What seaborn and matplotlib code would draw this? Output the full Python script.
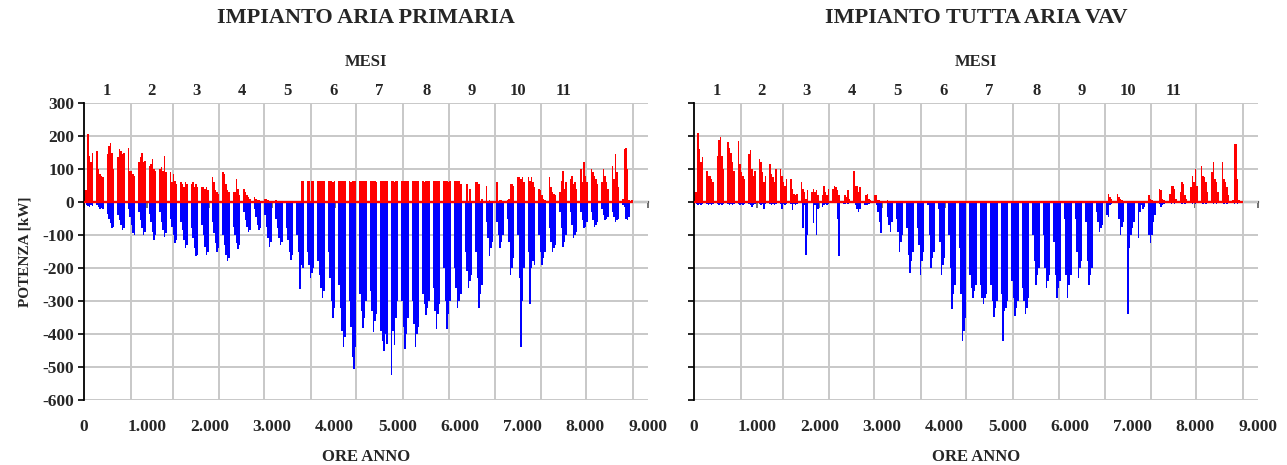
import numpy as np
import pandas as pd
import matplotlib
matplotlib.use("Agg")
import matplotlib.pyplot as plt
import seaborn as sns
from matplotlib.ticker import FuncFormatter

sns.set_theme(style="white")
plt.rcParams['font.family'] = ['Liberation Serif', 'DejaVu Serif']
plt.rcParams['font.weight'] = 'bold'
plt.rcParams['axes.unicode_minus'] = False

# ---------------- text / axes data ----------------
titoli = ["IMPIANTO ARIA PRIMARIA", "IMPIANTO TUTTA ARIA VAV"]
etichetta_y = "POTENZA [kW]"
etichetta_x = "ORE ANNO"
etichetta_mesi = "MESI"
mesi_etichette = ["1", "2", "3", "4", "5", "6", "7", "8", "9", "10", "11"]
giorni_mese = [31, 28, 31, 30, 31, 30, 31, 31, 30, 31, 30, 31]
ore_ticks = [0, 1000, 2000, 3000, 4000, 5000, 6000, 7000, 8000, 9000]
potenza_ticks = [-600, -500, -400, -300, -200, -100, 0, 100, 200, 300]

# ---------------- daily peak values [kW], one row per week (Sun..Sat) ----------------
primaria_riscaldamento = [
    35, 35, 205, 140, 120, 150, 0,
    0, 155, 100, 85, 80, 75, 0,
    0, 145, 170, 180, 150, 100, 0,
    0, 135, 160, 155, 145, 150, 0,
    0, 165, 95, 95, 85, 80, 0,
    0, 120, 135, 150, 120, 125, 0,
    0, 110, 115, 130, 100, 95, 0,
    0, 100, 105, 95, 140, 90, 0,
    0, 90, 60, 85, 65, 55, 0,
    0, 60, 55, 45, 60, 55, 0,
    0, 55, 60, 45, 55, 45, 0,
    0, 45, 45, 40, 45, 35, 0,
    0, 75, 60, 35, 30, 25, 0,
    0, 90, 85, 55, 35, 30, 0,
    0, 30, 30, 70, 40, 20, 0,
    0, 40, 30, 20, 15, 10, 0,
    0, 15, 10, 5, 5, 3, 0,
    0, 10, 8, 5, 3, 2, 0,
    0, 5, 3, 2, 2, 2, 0,
    0, 3, 2, 2, 2, 2, 0,
    0, 3, 2, 2, 65, 65, 0,
    0, 65, 65, 3, 65, 65, 0,
    0, 65, 65, 65, 65, 65, 0,
    0, 65, 65, 65, 60, 65, 0,
    0, 65, 65, 65, 65, 65, 0,
    0, 65, 60, 65, 65, 65, 0,
    0, 65, 65, 65, 65, 65, 0,
    0, 65, 65, 65, 65, 60, 0,
    0, 65, 65, 65, 65, 65, 0,
    0, 65, 65, 60, 65, 65, 0,
    0, 65, 65, 65, 65, 65, 0,
    0, 65, 65, 65, 65, 65, 0,
    0, 65, 60, 65, 65, 65, 0,
    0, 65, 65, 65, 65, 65, 0,
    0, 65, 65, 65, 60, 65, 0,
    0, 65, 65, 65, 65, 55, 0,
    0, 0, 55, 0, 40, 0, 0,
    0, 60, 60, 55, 0, 10, 0,
    0, 50, 0, 5, 0, 0, 0,
    0, 60, 0, 5, 5, 0, 0,
    0, 5, 10, 55, 55, 50, 0,
    0, 75, 75, 70, 75, 60, 0,
    0, 75, 65, 75, 60, 45, 0,
    0, 40, 35, 20, 10, 5, 0,
    0, 75, 45, 30, 25, 20, 0,
    0, 30, 65, 95, 40, 60, 0,
    0, 70, 80, 55, 60, 40, 0,
    0, 100, 60, 120, 80, 60, 0,
    0, 100, 90, 80, 70, 55, 0,
    0, 60, 100, 80, 60, 40, 0,
    0, 110, 70, 145, 90, 45, 0,
    0, 10, 160, 165, 100, 5, 0,
    5,
]

primaria_raffrescamento = [
    0, -10, -12, -15, -10, -12, 0,
    0, -10, -15, -20, -18, -20, 0,
    0, -35, -50, -65, -80, -75, 0,
    0, -40, -55, -70, -85, -80, 0,
    0, -20, -45, -70, -95, -100, 0,
    0, -30, -55, -80, -100, -90, 0,
    0, -35, -60, -90, -115, -100, 0,
    0, -30, -60, -85, -105, -95, 0,
    0, -50, -75, -100, -125, -115, 0,
    0, -60, -85, -115, -140, -130, 0,
    0, -80, -110, -140, -165, -160, 0,
    0, -70, -100, -135, -160, -150, 0,
    0, -60, -95, -125, -150, -140, 0,
    0, -100, -130, -160, -178, -170, 0,
    0, -75, -100, -125, -143, -130, 0,
    0, -30, -55, -75, -90, -85, 0,
    0, -20, -45, -70, -85, -80, 0,
    0, -40, -75, -110, -135, -120, 0,
    0, -50, -80, -110, -130, -120, 0,
    0, -80, -115, -150, -175, -160, 0,
    0, -100, -150, -265, -190, -200, 0,
    0, -150, -190, -230, -215, -200, 0,
    0, -180, -220, -260, -290, -270, 0,
    0, -150, -230, -300, -350, -320, 0,
    0, -250, -320, -390, -440, -410, 0,
    0, -300, -380, -470, -505, -440, 0,
    0, -280, -330, -383, -350, -300, 0,
    0, -270, -330, -393, -360, -340, 0,
    0, -390, -420, -450, -400, -430, 0,
    0, -525, -390, -434, -350, -300, 0,
    0, -300, -380, -444, -400, -350, 0,
    0, -300, -370, -440, -400, -380, 0,
    0, -280, -310, -342, -320, -300, 0,
    0, -260, -330, -385, -340, -310, 0,
    0, -200, -300, -385, -340, -300, 0,
    0, -200, -260, -320, -300, -280, 0,
    0, -150, -210, -260, -240, -220, 0,
    0, -150, -230, -320, -280, -250, 0,
    0, -60, -110, -165, -140, -120, 0,
    0, -60, -100, -140, -120, -100, 0,
    0, -50, -120, -220, -200, -170, 0,
    0, -100, -230, -440, -300, -200, 0,
    0, -150, -310, -200, -180, -190, 0,
    0, -100, -150, -190, -170, -150, 0,
    0, -80, -120, -150, -140, -130, 0,
    0, -30, -80, -135, -120, -100, 0,
    0, -30, -70, -110, -100, -90, 0,
    0, -30, -55, -80, -75, -60, 0,
    0, -30, -55, -75, -70, -60, 0,
    0, -20, -40, -55, -50, -45, 0,
    0, -30, -45, -60, -55, -50, 0,
    0, -10, -15, -50, -55, -45, 0,
    0,
]

vav_riscaldamento = [
    30, 30, 210, 160, 120, 136, 0,
    0, 95, 80, 80, 70, 60, 0,
    0, 140, 188, 198, 140, 100, 0,
    0, 182, 165, 150, 120, 95, 0,
    0, 185, 115, 90, 80, 70, 0,
    0, 146, 157, 100, 80, 95, 0,
    0, 130, 120, 90, 60, 80, 0,
    0, 115, 85, 75, 60, 100, 0,
    0, 100, 80, 60, 50, 70, 0,
    0, 70, 40, 25, 20, 25, 0,
    0, 60, 40, 30, 10, 35, 0,
    0, 30, 40, 30, 35, 20, 0,
    0, 20, 50, 30, 20, 40, 0,
    0, 40, 50, 45, 35, 20, 0,
    0, 0, 20, 15, 35, 10, 0,
    0, 95, 50, 50, 30, 45, 0,
    0, 0, 20, 25, 10, 5, 0,
    0, 20, 20, 5, 5, 3, 0,
    0, 0, 5, 3, 2, 0, 0,
    0, 0, 0, 0, 0, 0, 0,
    0, 0, 0, 0, 0, 0, 0,
    0, 0, 0, 0, 0, 0, 0,
    0, 0, 0, 0, 0, 0, 0,
    0, 0, 0, 0, 0, 0, 0,
    0, 0, 0, 0, 0, 0, 0,
    0, 0, 0, 0, 0, 0, 0,
    0, 0, 0, 0, 0, 0, 0,
    0, 0, 0, 0, 0, 0, 0,
    0, 0, 0, 0, 0, 0, 0,
    0, 0, 0, 0, 0, 0, 0,
    0, 0, 0, 0, 0, 0, 0,
    0, 0, 0, 0, 0, 0, 0,
    0, 0, 0, 0, 0, 0, 0,
    0, 0, 0, 0, 0, 0, 0,
    0, 0, 0, 0, 0, 0, 0,
    0, 0, 0, 0, 0, 0, 0,
    0, 0, 0, 0, 0, 0, 0,
    0, 0, 0, 0, 0, 0, 0,
    0, 0, 0, 0, 0, 0, 0,
    0, 0, 25, 15, 10, 0, 0,
    0, 25, 15, 10, 5, 0, 0,
    0, 0, 0, 0, 0, 0, 0,
    0, 0, 0, 0, 0, 0, 0,
    0, 20, 10, 5, 0, 0, 0,
    0, 40, 35, 10, 5, 0, 0,
    0, 25, 50, 50, 40, 10, 0,
    0, 30, 60, 55, 20, 10, 0,
    0, 45, 80, 60, 100, 50, 0,
    0, 110, 80, 75, 60, 30, 0,
    0, 90, 120, 70, 60, 30, 0,
    0, 120, 70, 60, 45, 20, 0,
    0, 5, 175, 175, 70, 5, 0,
    0,
]

vav_raffrescamento = [
    0, -5, -8, -5, -10, -5, 0,
    0, -5, -8, -5, -10, -5, 0,
    0, -5, -8, -5, -10, -5, 0,
    0, -5, -8, -5, -10, -5, 0,
    0, -5, -8, -5, -10, -5, 0,
    0, -5, -8, -15, -10, -5, 0,
    0, -5, -8, -5, -20, -5, 0,
    0, -5, -8, -5, -10, -5, 0,
    0, -5, -20, -5, -10, -5, 0,
    0, -5, -25, -5, -10, -5, 0,
    0, 0, -80, -10, -160, -100, 0,
    0, 0, -65, -10, -100, -20, 0,
    0, -15, -10, -5, -10, -5, 0,
    0, 0, 0, 0, -50, -165, 0,
    0, -5, -5, -3, -5, -3, 0,
    0, 0, -10, -20, -30, -20, 0,
    0, -10, -10, -10, -5, 0, 0,
    0, 0, -10, -30, -60, -95, 0,
    0, 0, -45, -70, -90, -60, 0,
    0, -50, -90, -150, -120, -100, 0,
    0, -80, -160, -215, -180, -150, 0,
    0, -80, -130, -220, -180, -150, 0,
    0, -10, -100, -200, -170, -150, 0,
    0, -20, -120, -220, -190, -170, 0,
    0, -100, -200, -325, -280, -250, 0,
    0, -140, -280, -420, -390, -350, 0,
    0, -220, -260, -290, -270, -250, 0,
    0, -250, -290, -308, -290, -280, 0,
    0, -250, -300, -348, -320, -300, 0,
    0, -280, -420, -330, -320, -300, 0,
    0, -240, -290, -345, -320, -300, 0,
    0, -260, -300, -340, -320, -290, 0,
    0, -100, -180, -250, -220, -200, 0,
    0, -100, -200, -260, -240, -220, 0,
    0, -120, -220, -290, -260, -240, 0,
    0, -50, -220, -290, -250, -220, 0,
    0, -50, -150, -230, -200, -180, 0,
    0, -60, -180, -250, -220, -200, 0,
    0, -30, -60, -90, -80, -70, 0,
    0, -40, -45, -10, -5, 0, 0,
    0, 0, -50, -100, -75, -60, 0,
    0, -340, -140, -100, -80, -60, 0,
    0, -110, -30, -10, -20, -15, 0,
    0, -100, -125, -100, -60, -40, 0,
    0, -5, -15, -10, -5, 0, 0,
    0, -3, -5, -3, -5, -3, 0,
    0, -3, -5, -3, -5, -3, 0,
    0, -3, -5, -3, -5, -3, 0,
    0, -3, -5, -3, -5, -3, 0,
    0, -3, -5, -3, -5, -3, 0,
    0, -3, -5, -3, -5, -3, 0,
    0, -3, -5, -3, -5, -3, 0,
    0,
]

ROSSO = "#FF0000"
BLU = "#0000FF"
GRIGLIA = "#c8c8c8"

W, H = 1287, 465
fig = plt.figure(figsize=(W / 100, H / 100), dpi=100)
pos_x = [84, 694]
ax_w = 564
ax_top, ax_bot = 103, 400

confini_mesi = np.cumsum([0] + giorni_mese) * 24
centri_mesi = (confini_mesi[:-1] + confini_mesi[1:]) / 2
ore_totali = confini_mesi[-1]

fmt_migliaia = FuncFormatter(lambda v, p: f"{int(v):,}".replace(",", "."))

serie = [(primaria_riscaldamento, primaria_raffrescamento),
         (vav_riscaldamento, vav_raffrescamento)]

for i, (risc, raff) in enumerate(serie):
    ax = fig.add_axes([pos_x[i] / W, 1 - ax_bot / H, ax_w / W, (ax_bot - ax_top) / H])
    ore = np.arange(len(risc)) * 24 + 12
    df = pd.DataFrame({"ore": ore, "risc": risc, "raff": raff})
    sns.barplot(data=df, x="ore", y="raff", native_scale=True, width=1.0,
                color=BLU, saturation=1, errorbar=None, ax=ax,
                linewidth=0, edgecolor="none", antialiased=False)
    sns.barplot(data=df, x="ore", y="risc", native_scale=True, width=1.0,
                color=ROSSO, saturation=1, errorbar=None, ax=ax,
                linewidth=0, edgecolor="none", antialiased=False)
    ax.hlines(0, 0, ore_totali, colors=ROSSO, lw=1.6, zorder=3)

    ax.set_xlim(0, 9000)
    ax.set_ylim(-600, 300)
    ax.set_yticks(potenza_ticks)
    ax.set_xticks(ore_ticks)
    ax.set_xticks(confini_mesi, minor=True)
    ax.xaxis.set_major_formatter(fmt_migliaia)
    ax.grid(False)
    ax.set_axisbelow(True)
    ax.grid(axis="y", which="major", color=GRIGLIA, lw=1.4)
    ax.grid(axis="x", which="minor", color=GRIGLIA, lw=1.4)
    for s in ["top", "right", "bottom"]:
        ax.spines[s].set_visible(False)
    ax.spines["left"].set_color("black")
    ax.spines["left"].set_linewidth(1.3)
    ax.tick_params(axis="x", which="both", length=0, pad=14, labelsize=12.5)
    ax.tick_params(axis="y", which="major", direction="out", length=4, width=1.2,
                   color="black", left=True, pad=3, labelsize=12.5)
    ax.set_xlabel(etichetta_x, fontsize=12, fontweight="bold", labelpad=10)
    if i == 0:
        ax.set_ylabel(etichetta_y, fontsize=11, fontweight="bold", labelpad=8)
    else:
        ax.set_ylabel("")
        ax.tick_params(axis="y", labelleft=False)

    # axis line crossing at zero, with small tick marks
    asse0 = ax.secondary_xaxis(600 / 900)
    asse0.set_xticks(ore_ticks)
    asse0.tick_params(direction="in", length=4, width=1.2, color="#5a5a5a",
                      labeltop=False, labelbottom=False)
    for s in asse0.spines.values():
        s.set_color("#5a5a5a")
        s.set_linewidth(1.6)

    # months axis on top
    top = ax.secondary_xaxis("top")
    top.set_xticks(centri_mesi[:len(mesi_etichette)], labels=mesi_etichette)
    top.tick_params(length=0, pad=3, labelsize=12)
    top.spines["top"].set_visible(False)
    top.set_xlabel(etichetta_mesi, fontsize=12, fontweight="bold", labelpad=12)

    fig.text((pos_x[i] + ax_w / 2) / W, 1 - 18 / H, titoli[i], ha="center",
             va="center", fontsize=16, fontweight="bold")

fig.savefig("out.png", dpi=100, facecolor="white")
